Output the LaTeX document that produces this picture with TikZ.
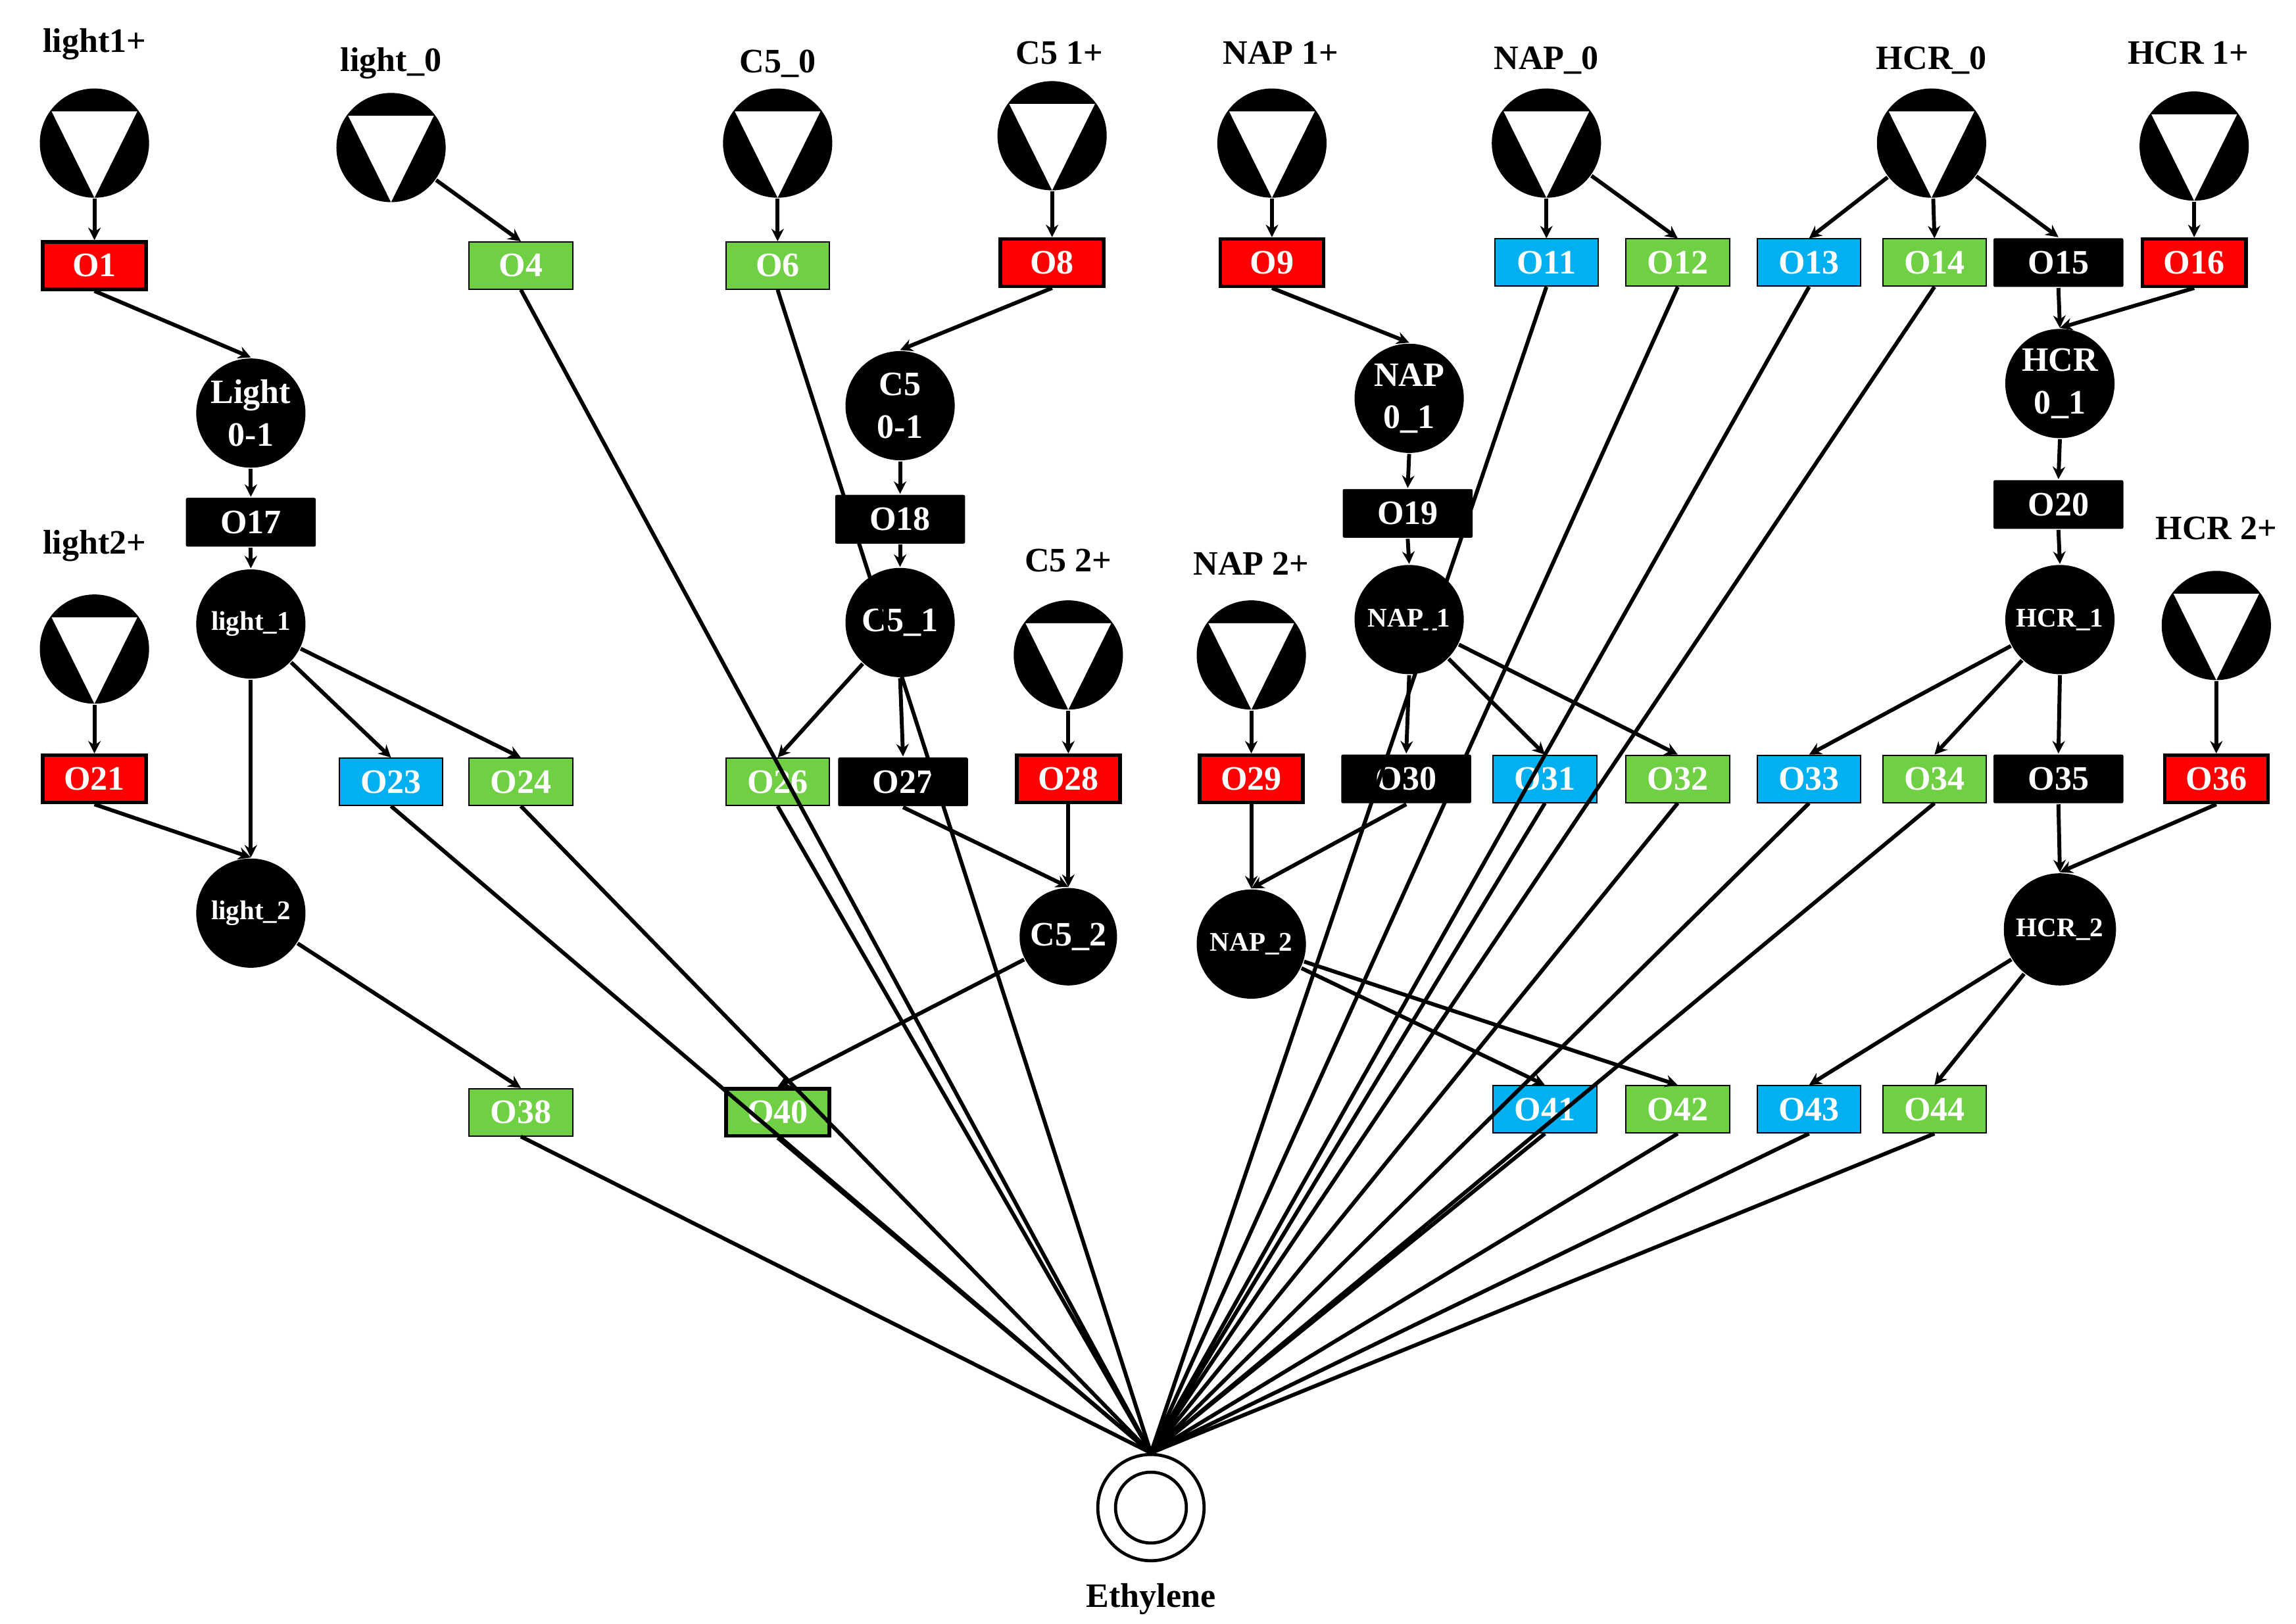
\documentclass[tikz,border=0pt]{standalone}
\usepackage{fontspec}
\setmainfont{Liberation Serif}
\usetikzlibrary{arrows.meta}
\definecolor{bred}{HTML}{FF0000}
\definecolor{bgreen}{HTML}{70D044}
\definecolor{bblue}{HTML}{00B0F0}
\begin{document}
\begin{tikzpicture}[x=0.01cm,y=-0.01cm,
  every node/.style={font=\fontsize{6.6pt}{7pt}\selectfont\bfseries},
  src/.style={circle,fill=black,minimum size=0.74cm,inner sep=0pt,
    path picture={\fill[white] ([xshift=-0.29cm,yshift=0.215cm]path picture bounding box.center) -- ([xshift=0.29cm,yshift=0.215cm]path picture bounding box.center) -- (path picture bounding box.south) -- cycle;}},
  lab/.style={text=black},
  st/.style={circle,fill=black,text=white,minimum size=0.74cm,inner sep=0pt,align=center,font=\fontsize{6.6pt}{8.2pt}\selectfont\bfseries},
  sts/.style={st,font=\fontsize{5.2pt}{6pt}\selectfont\bfseries},
  box/.style={rectangle,text=white,minimum width=0.7cm,minimum height=0.32cm,inner sep=0pt},
  rb/.style={box,fill=bred,draw=black,line width=0.7pt},
  gb/.style={box,fill=bgreen,draw=black,line width=0.25pt},
  bb/.style={box,fill=bblue,draw=black,line width=0.25pt},
  kb/.style={box,fill=black,minimum width=0.88cm,minimum height=0.33cm,rounded corners=0.3pt},
  ar/.style={-{Stealth[length=2.4pt,width=2.4pt]},line width=0.75pt},
  ln/.style={line width=0.75pt}]
\useasboundingbox (0,0) rectangle (1556,1100.9);
% sources
\node[src] (s1) at (64,97) {}; \node[lab] (l1) at (64,30) {light1+};
\node[src] (s2) at (265,100) {}; \node[lab] (l2) at (265,43) {light\_0};
\node[src] (s3) at (527,97) {}; \node[lab] (l3) at (527,43) {C5\_0};
\node[src] (s4) at (713,92) {}; \node[lab] (l4) at (718,36) {C5 1+};
\node[src] (s5) at (862,97) {}; \node[lab] (l5) at (868,36) {NAP 1+};
\node[src] (s6) at (1048,97) {}; \node[lab] (l6) at (1048,41) {NAP\_0};
\node[src] (s7) at (1309,97) {}; \node[lab] (l7) at (1309,41) {HCR\_0};
\node[src] (s8) at (1487,99) {}; \node[lab] (l8) at (1483,36) {HCR 1+};
\node[src] (s9) at (64,440) {}; \node[lab] (l9) at (64,370) {light2+};
\node[src] (s10) at (724,444) {}; \node[lab] (l10) at (724,380) {C5 2+};
\node[src] (s11) at (848,444) {}; \node[lab] (l11) at (848,382) {NAP 2+};
\node[src] (s12) at (1502,424) {}; \node[lab] (l12) at (1502,358) {HCR 2+};
% boxes row 1
\node[rb] (O1) at (64,180) {O1};
\node[gb] (O4) at (353,180) {O4};
\node[gb] (O6) at (527,180) {O6};
\node[rb] (O8) at (713,178) {O8};
\node[rb] (O9) at (862,178) {O9};
\node[bb] (O11) at (1048,178) {O11};
\node[gb] (O12) at (1137,178) {O12};
\node[bb] (O13) at (1226,178) {O13};
\node[gb] (O14) at (1311,178) {O14};
\node[kb] (O15) at (1395,178) {O15};
\node[rb] (O16) at (1487,178) {O16};
% intermediate
\node[st] (L01) at (170,280) {Light\\0-1};
\node[st] (C01) at (610,275) {C5\\0-1};
\node[st] (N01) at (955,270) {NAP\\0\_1};
\node[st] (H01) at (1396,260) {HCR\\0\_1};
\node[kb] (O17) at (170,354) {O17};
\node[kb] (O18) at (610,352) {O18};
\node[kb] (O19) at (954,348) {O19};
\node[kb] (O20) at (1395,342) {O20};
\node[sts] (L1) at (170,423) {light\_1};
\node[st] (C1) at (610,422) {C5\_1};
\node[sts] (N1) at (955,420) {NAP\_1};
\node[sts] (H1) at (1396,420) {HCR\_1};
% row 2 boxes
\node[rb] (O21) at (64,528) {O21};
\node[bb] (O23) at (265,530) {O23};
\node[gb] (O24) at (353,530) {O24};
\node[gb] (O26) at (527,530) {O26};
\node[kb] (O27) at (612,530) {O27};
\node[rb] (O28) at (724,528) {O28};
\node[rb] (O29) at (848,528) {O29};
\node[kb] (O30) at (953,528) {O30};
\node[bb] (O31) at (1047,528) {O31};
\node[gb] (O32) at (1137,528) {O32};
\node[bb] (O33) at (1226,528) {O33};
\node[gb] (O34) at (1311,528) {O34};
\node[kb] (O35) at (1395,528) {O35};
\node[rb] (O36) at (1502,528) {O36};
\node[sts] (L2) at (170,619) {light\_2};
\node[st,minimum size=0.66cm] (C2) at (724,635) {C5\_2};
\node[sts] (N2) at (848,640) {NAP\_2};
\node[sts,minimum size=0.76cm] (H2) at (1396,630) {HCR\_2};
% row 3 boxes
\node[gb] (O38) at (353,754) {O38};
\node[gb,line width=0.7pt] (O40) at (527,754) {O40};
\node[bb] (O41) at (1047,752) {O41};
\node[gb] (O42) at (1137,752) {O42};
\node[bb] (O43) at (1226,752) {O43};
\node[gb] (O44) at (1311,752) {O44};
% ethylene
\node[circle,draw=black,line width=0.6pt,minimum size=0.72cm,inner sep=0pt] (E) at (780,1022) {};
\node[circle,draw=black,line width=0.6pt,minimum size=0.48cm,inner sep=0pt] (Ei) at (780,1022) {};
\node[lab] (El) at (780,1084) {Ethylene};
% arrows
\foreach \a/\b in {s1/O1,s2/O4,s3/O6,s4/O8,s5/O9,s6/O11,s6/O12,s7/O13,s7/O14,s7/O15,s8/O16,
  s9/O21,s10/O28,s11/O29,s12/O36,
  L1/O23,L1/O24,C1/O26,N1/O31,N1/O32,H1/O33,H1/O34,
  C2/O40,L2/O38,N2/O41,N2/O42,H2/O43,H2/O44}
  \draw[ar] (\a) -- (\b.north);
\foreach \a/\b in {O1/L01,L01/O17,O17/L1,L1/L2,O21/L2,O8/C01,C01/O18,O18/C1,C1/O27,O27/C2,O28/C2,
  O9/N01,N01/O19,O19/N1,N1/O30,O29/N2,O30/N2,O15/H01,O16/H01,H01/O20,O20/H1,H1/O35,O35/H2,O36/H2}
  \draw[ar] (\a.south) -- (\b.north);
% to ethylene
\foreach \a in {O4,O6,O11,O12,O13,O14,O23,O24,O26,O31,O32,O33,O34,O38,O40,O41,O42,O43,O44}
  \draw[ln] (\a.south) -- (E.north);
\end{tikzpicture}
\end{document}
